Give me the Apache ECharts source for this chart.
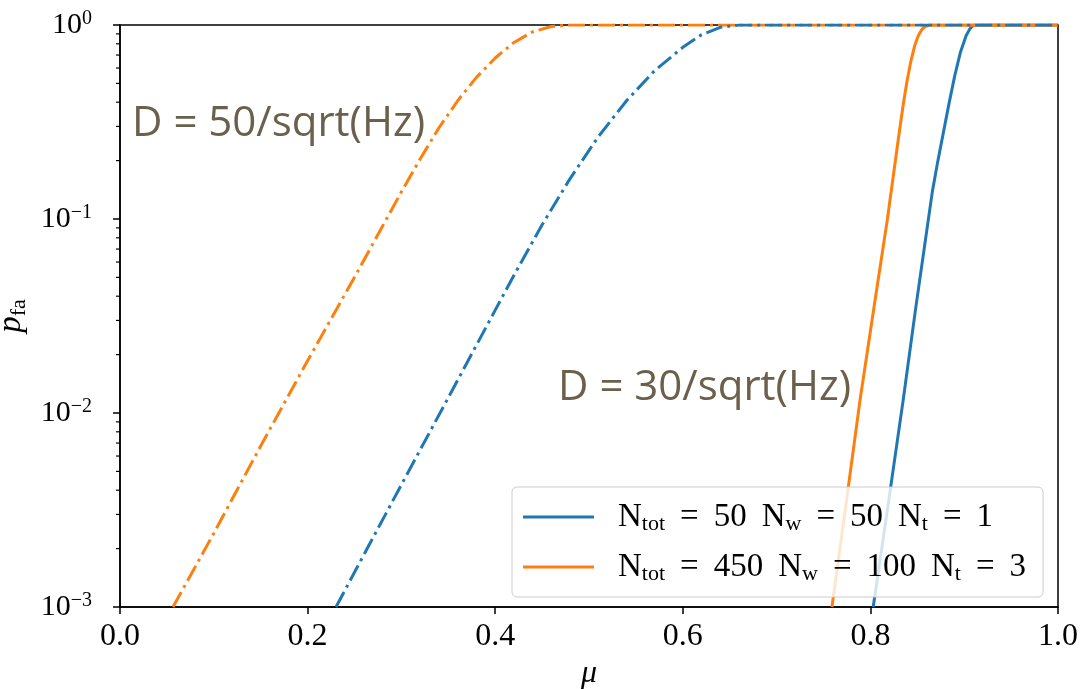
<!DOCTYPE html>
<html><head><meta charset="utf-8">
<script src="https://cdn.jsdelivr.net/npm/echarts@6/dist/echarts.min.js"></script>
<style>html,body{margin:0;padding:0;background:#fff}#c{width:1082px;height:689px}</style>
</head><body><div id="c"></div>
<script>
// ---- data ----
const xTicks = [0.0, 0.2, 0.4, 0.6, 0.8, 1.0];
const yMajorTicks = [0.001, 0.01, 0.1, 1];
const yMinorTicks = [0.002,0.003,0.004,0.005,0.006,0.007,0.008,0.009,
                     0.02,0.03,0.04,0.05,0.06,0.07,0.08,0.09,
                     0.2,0.3,0.4,0.5,0.6,0.7,0.8,0.9];

// solid curves (legend entries)
const muBlueSolid   = [0.803, 0.819, 0.835, 0.848, 0.8617, 0.866, 0.872, 0.878, 0.884, 0.890, 0.896, 0.902, 0.906, 0.910, 1.0];
const pBlueSolid    = [0.001, 0.00339, 0.0117, 0.0339, 0.0989, 0.138, 0.200, 0.282, 0.398, 0.550, 0.724, 0.881, 0.955, 1, 1];
const muOrangeSolid = [0.759, 0.774, 0.789, 0.804, 0.818, 0.830, 0.835, 0.839, 0.843, 0.847, 0.851, 0.855, 0.859, 0.864, 1.0];
const pOrangeSolid  = [0.001, 0.00339, 0.0117, 0.0355, 0.0989, 0.263, 0.389, 0.513, 0.646, 0.776, 0.881, 0.951, 0.986, 1, 1];

// dash-dot curves
const muBlueDash   = [0.2303, 0.25, 0.30, 0.35, 0.40, 0.42, 0.45, 0.48, 0.51, 0.54, 0.57, 0.60, 0.62, 0.64, 0.66, 1.0];
const pBlueDash    = [0.001, 0.00151, 0.00427, 0.0120, 0.0339, 0.0513, 0.0933, 0.162, 0.266, 0.407, 0.582, 0.767, 0.891, 0.973, 1, 1];
const muOrangeDash = [0.0565, 0.10, 0.15, 0.20, 0.25, 0.30, 0.32, 0.34, 0.36, 0.38, 0.40, 0.42, 0.44, 0.46, 0.477, 1.0];
const pOrangeDash  = [0.001, 0.0024, 0.00676, 0.0186, 0.0501, 0.138, 0.204, 0.295, 0.407, 0.537, 0.676, 0.813, 0.923, 0.982, 1, 1];

const seriesNames = ['N_tot=50 N_w=50 N_t=1', 'N_tot=450 N_w=100 N_t=3'];
const legendNtot = ['50', '450'];
const legendNw   = ['50', '100'];
const legendNt   = ['1', '3'];

const annotations = ['D = 50/sqrt(Hz)', 'D = 30/sqrt(Hz)'];

const BLUE = '#1f77b4', ORANGE = '#ff7f0e';
const SERIF = '"Liberation Serif", "DejaVu Serif", serif';

function zip(xs, ys) { return xs.map((x, i) => [x, ys[i]]); }

const chart = echarts.init(document.getElementById('c'), null, {renderer: 'canvas'});

const dashPattern = [17, 5, 3, 5];

const option = {
  backgroundColor: '#ffffff',
  animation: false,
  grid: {left: 120, right: 24, top: 25, bottom: 82, show: true, borderColor: '#000', borderWidth: 1.5,
         backgroundColor: 'transparent', containLabel: false, outerBoundsMode: 'none'},
  xAxis: {
    type: 'value', min: 0, max: 1, interval: 0.2,
    name: 'μ', nameLocation: 'middle', nameGap: 49,
    nameTextStyle: {fontFamily: SERIF, fontStyle: 'italic', fontSize: 32, color: '#000'},
    axisLine: {show: true, onZero: false, lineStyle: {color: '#000', width: 1.5}},
    axisTick: {show: true, inside: false, length: 7, lineStyle: {color: '#000', width: 1.5}},
    axisLabel: {fontFamily: SERIF, fontSize: 32, color: '#000', margin: 14,
      formatter: v => v.toFixed(1)},
    splitLine: {show: false}
  },
  yAxis: {
    type: 'log', logBase: 10, min: 0.001, max: 1,
    name: '{i|p}{s|fa}', nameLocation: 'middle', nameGap: 80, nameRotate: 90,
    nameTextStyle: {color: '#000', rich: {
      i: {fontFamily: SERIF, fontStyle: 'italic', fontSize: 33, lineHeight: 36, color: '#000'},
      s: {fontFamily: SERIF, fontSize: 22, lineHeight: 16, verticalAlign: 'bottom', color: '#000'}
    }},
    axisLine: {show: true, lineStyle: {color: '#000', width: 1.5}},
    axisTick: {show: true, inside: false, length: 7, lineStyle: {color: '#000', width: 1.5}},
    axisLabel: {margin: 28,
      formatter: v => {
        const e = Math.round(Math.log10(v));
        return '{b|10}{p|' + (e < 0 ? '\u2212' + (-e) : e) + '}';
      },
      rich: {
        b: {fontFamily: SERIF, fontSize: 30, lineHeight: 32, color: '#000'},
        p: {fontFamily: SERIF, fontSize: 20, lineHeight: 17, verticalAlign: 'top', color: '#000'}
      }
    },
    splitLine: {show: false}
  },
  legend: {
    data: seriesNames,
    orient: 'vertical', left: 512, top: 487,
    icon: 'rect', itemWidth: 71, itemHeight: 3, itemGap: 14,
    padding: [12, 17, 12, 11],
    backgroundColor: 'rgba(255,255,255,0.8)', borderColor: '#cccccc', borderWidth: 1, borderRadius: 5,
    selectedMode: false,
    formatter: name => {
      const i = seriesNames.indexOf(name);
      return 'N{s|tot}{e|=}{v|' + legendNtot[i] + '}N{s|w}{e|=}{v|' + legendNw[i] + '}N{s|t}{e|=}' + legendNt[i];
    },
    textStyle: {fontFamily: SERIF, fontSize: 33, lineHeight: 36, color: '#000', padding: [0, 0, 0, 19],
      rich: {
        s: {fontFamily: SERIF, fontSize: 22, lineHeight: 16, verticalAlign: 'bottom', color: '#000'},
        e: {fontFamily: SERIF, fontSize: 33, lineHeight: 36, color: '#000', padding: [0, 15, 0, 15]},
        v: {fontFamily: SERIF, fontSize: 33, lineHeight: 36, color: '#000', padding: [0, 15, 0, 0]}
      }
    },
    z: 10
  },
  graphic: [
    {type: 'text', left: 132, top: 103, z: 5, style: {text: annotations[0], font: '42px "Open Sans"', fill: '#6b604b'}},
    {type: 'text', left: 558, top: 367, z: 5, style: {text: annotations[1], font: '42px "Open Sans"', fill: '#6b604b'}}
  ],
  series: [
    {name: seriesNames[0], type: 'line', data: zip(muBlueSolid, pBlueSolid), showSymbol: false, smooth: false,
      color: BLUE, lineStyle: {color: BLUE, width: 3}, z: 3},
    {name: seriesNames[1], type: 'line', data: zip(muOrangeSolid, pOrangeSolid), showSymbol: false, smooth: false,
      color: ORANGE, lineStyle: {color: ORANGE, width: 3}, z: 3},
    {name: 'D50 dash', type: 'line', data: zip(muOrangeDash, pOrangeDash), showSymbol: false, smooth: false,
      color: ORANGE, lineStyle: {color: ORANGE, width: 3, type: dashPattern}, z: 3},
    {name: 'D30 dash', type: 'line', data: zip(muBlueDash, pBlueDash), showSymbol: false, smooth: false,
      color: BLUE, lineStyle: {color: BLUE, width: 3, type: dashPattern}, z: 3},
    {name: 'minor ticks', type: 'custom', data: yMinorTicks.map(v => [0, v]), clip: false, silent: true,
      renderItem: (params, api) => {
        const p = api.coord([0, api.value(1)]);
        return {type: 'line', shape: {x1: p[0] - 4, y1: p[1], x2: p[0], y2: p[1]},
                style: {stroke: '#000', lineWidth: 1.2}};
      }, z: 4}
  ]
};
chart.setOption(option);
</script>
</body></html>
